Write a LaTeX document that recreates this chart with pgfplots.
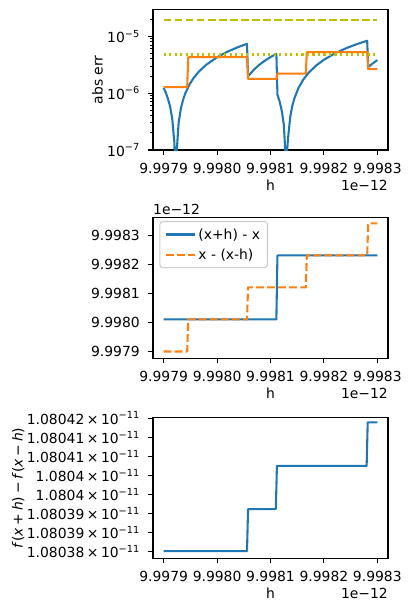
\documentclass[border=0pt]{standalone}
\usepackage{fontspec}
\setmainfont{DejaVu Sans}
\usepackage{pgfplots}
\pgfplotsset{compat=1.18}
\definecolor{C0}{HTML}{1F77B4}
\definecolor{C1}{HTML}{FF7F0E}
\definecolor{CY}{rgb}{0.75,0.75,0}
\newcommand{\fs}{\fontsize{13.9}{16.7}\selectfont}
\newcommand{\tl}[1]{#1\hspace{0.18em}×\hspace{0.18em}10\textsuperscript{−11}}
\pgfplotsset{
  mpl/.style={
    scale only axis, width=235pt, height=140.5pt,
    axis line style={line width=1.11pt},
    every tick/.style={black, line width=1.11pt},
    every minor tick/.append style={line width=0.83pt},
    tick align=outside, xtick pos=bottom, ytick pos=left,
    major tick length=4.86pt, minor tick length=2.78pt,
    tick label style={font=\fs},
    xticklabel style={yshift=-4.86pt},
    yticklabel style={xshift=-4.86pt},
    label style={font=\fs},
    xmin=-0.2, xmax=4.2, xtick={0,1,2,3,4},
    xticklabels={9.9979,9.9980,9.9981,9.9982,9.9983},
    xlabel={h},
    xlabel style={at={(axis description cs:0.5,0)}, anchor=base, yshift=-40.5pt, inner sep=0pt},
    clip mode=individual,
  },
  ln/.style={line width=2.08pt, line join=round},
}
\begin{document}
\begin{tikzpicture}
\path[use as bounding box] (0,0) rectangle (411pt,-611pt);
% ---------- plot 1 ----------
\begin{axis}[mpl, at={(153pt,-150pt)}, anchor=south west,
  ymode=log, ymin=1e-7, ymax=2.94e-5,
  ytick={1e-7,1e-6,1e-5},
  yticklabels={10\textsuperscript{−7},10\textsuperscript{−6},10\textsuperscript{−5}},
  minor ytick={2e-7,3e-7,4e-7,5e-7,6e-7,7e-7,8e-7,9e-7,2e-6,3e-6,4e-6,5e-6,6e-6,7e-6,8e-6,9e-6,2e-5},
  ylabel={abs err},
  ylabel style={at={(axis description cs:-0.2362,0.5)}, anchor=center},
]
\addplot[C0, ln] coordinates {
(0,1.2375e-6) (0.04,1.0175e-6) (0.08,7.975e-7) (0.12,5.775e-7) (0.16,3.575e-7)
(0.20,1.375e-7) (0.22,2.75e-8) (0.24,8.25e-8) (0.28,3.025e-7) (0.32,5.225e-7)
(0.36,7.425e-7) (0.40,9.625e-7) (0.48,1.4025e-6) (0.56,1.8425e-6) (0.66,2.3925e-6)
(0.80,3.1625e-6) (1.00,4.2625e-6) (1.20,5.3625e-6) (1.40,6.4625e-6) (1.56,7.34e-6)
(1.58,1.98e-6) (1.70,2.64e-6) (1.80,3.19e-6) (1.90,3.74e-6) (2.00,4.29e-6) (2.11,4.895e-6)
(2.13,9.35e-7) (2.17,7.15e-7) (2.21,4.95e-7) (2.25,2.75e-7) (2.29,5.5e-8) (2.33,1.65e-7)
(2.37,3.85e-7) (2.41,6.05e-7) (2.45,8.25e-7) (2.53,1.265e-6) (2.61,1.705e-6) (2.71,2.255e-6)
(2.85,3.025e-6) (3.00,3.85e-6) (3.20,4.95e-6) (3.40,6.05e-6) (3.60,7.15e-6) (3.81,8.305e-6)
(3.83,2.86e-6) (3.90,3.245e-6) (4.00,3.795e-6)
};
\addplot[C1, ln] coordinates {
(0,1.27e-6) (0.44,1.27e-6) (0.46,4.28e-6) (1.56,4.28e-6) (1.58,1.78e-6) (2.11,1.78e-6)
(2.13,2.2e-6) (2.66,2.2e-6) (2.68,5.24e-6) (3.81,5.24e-6) (3.83,2.63e-6) (4.0,2.63e-6)
};
\addplot[CY, line width=2.08pt, dash pattern=on 7.7pt off 3.33pt] coordinates {(0,1.91e-5) (4,1.91e-5)};
\addplot[CY, line width=2.08pt, dash pattern=on 2.08pt off 3.43pt] coordinates {(0,4.77e-6) (4,4.77e-6)};
\node[font=\fs, anchor=base east, inner sep=0pt] at (rel axis cs:1,0) [yshift=-40.5pt] {1e−12};
\end{axis}
% ---------- plot 2 ----------
\begin{axis}[mpl, at={(153pt,-358.4pt)}, anchor=south west,
  ymin=-0.25, ymax=4.62, ytick={0,1,2,3,4},
  yticklabels={9.9979,9.9980,9.9981,9.9982,9.9983},
  legend cell align=left,
  legend style={at={(axis description cs:0,1)}, anchor=north west, xshift=6.3pt, yshift=-3pt,
    draw=black!20, line width=1.11pt, rounded corners=3pt, font=\fs,
    inner xsep=5.5pt, inner ysep=5pt, row sep=4pt},
  legend image code/.code={\draw[#1] (0pt,0pt) -- (29pt,0pt);},
]
\addplot[C0, ln] coordinates {(0,1.10) (2.11,1.10) (2.13,3.32) (4,3.32)};
\addlegendentry{(x+h) - x}
\addplot[C1, ln, dash pattern=on 7.7pt off 3.33pt] coordinates {
(0,-0.01) (0.44,-0.01) (0.46,1.10) (1.56,1.10) (1.58,2.21) (2.66,2.21)
(2.68,3.32) (3.81,3.32) (3.83,4.43) (4,4.43)};
\addlegendentry{x - (x-h)}
\node[font=\fs, anchor=base east, inner sep=0pt] at (rel axis cs:1,0) [yshift=-40.5pt] {1e−12};
\node[font=\fs, anchor=base west, inner sep=0pt] at (rel axis cs:0,1) [yshift=3.4pt] {1e−12};
\end{axis}
% ---------- plot 3 ----------
\begin{axis}[mpl, at={(153pt,-558.4pt)}, anchor=south west,
  ymin=-0.17, ymax=3.505, ytick={0,0.5,1,1.5,2,2.5,3,3.5},
  yticklabels={\tl{1.08038},\tl{1.08039},\tl{1.08039},\tl{1.0804},\tl{1.0804},\tl{1.08041},\tl{1.08041},\tl{1.08042}},
  ylabel={\textit{f}(\textit{x}\hspace{0.2em}+\hspace{0.2em}\textit{h})\hspace{0.2em}−\hspace{0.2em}\textit{f}(\textit{x}\hspace{0.2em}−\hspace{0.2em}\textit{h})},
  ylabel style={at={(axis description cs:-0.5732,0.5)}, anchor=center},
]
\addplot[C0, ln] coordinates {
(0,0.02) (1.56,0.02) (1.58,1.12) (2.10,1.12) (2.12,2.25) (3.80,2.25) (3.82,3.39) (4,3.39)};
\node[font=\fs, anchor=base east, inner sep=0pt] at (rel axis cs:1,0) [yshift=-40.5pt] {1e−12};
\end{axis}
\end{tikzpicture}
\end{document}
